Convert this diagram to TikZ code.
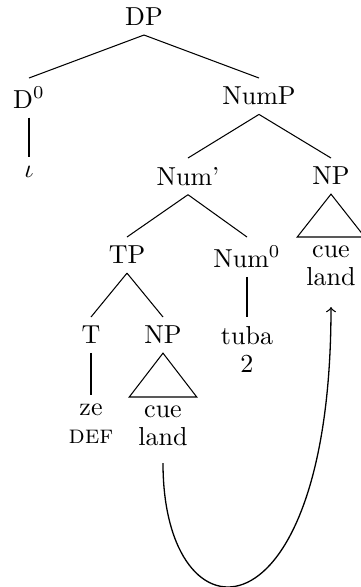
\documentclass[tikz,border=0pt]{standalone}
\begin{document}
\begin{tikzpicture}[x=0.3846pt,y=-0.3846pt,
  lab/.style={inner sep=3.33pt,font=\fontsize{10}{10.8}\selectfont,align=center},
  edge/.style={draw,line width=0.4pt}]
\useasboundingbox (0,0) rectangle (361,587);
\node[lab,anchor=south] (DP) at (144,35) {DP};
\node[lab,anchor=north] (D0) at (29,78) {D$^0$};
\node[lab,anchor=north] (iota) at (29,157) {$\iota$};
\node[lab,anchor=north] (NumP) at (259,78) {NumP};
\node[lab,anchor=north] (Numbar) at (188,158) {Num'};
\node[lab,anchor=north] (NPa) at (331,158) {NP};
\node[lab,anchor=north] (cuea) at (331,237) {cue\\land};
\node[lab,anchor=north] (TP) at (127,237) {TP};
\node[lab,anchor=north] (Num0) at (247,237) {Num$^0$};
\node[lab,anchor=north] (tuba) at (247,317) {tuba\\2};
\node[lab,anchor=north] (T) at (91,317) {T};
\node[lab,anchor=north] (NPb) at (163,317) {NP};
\node[lab,anchor=north] (ze) at (91,395) {ze\\\textsc{def}};
\node[lab,anchor=north] (cueb) at (163,397) {cue\\land};

\draw[edge] (DP.south) -- (D0.north);
\draw[edge] (DP.south) -- (NumP.north);
\draw[edge] (D0.south) -- (iota.north);
\draw[edge] (NumP.south) -- (Numbar.north);
\draw[edge] (NumP.south) -- (NPa.north);
\draw[edge] (NPa.south) -- (cuea.north west) -- (cuea.north east) -- cycle;
\draw[edge] (Numbar.south) -- (TP.north);
\draw[edge] (Numbar.south) -- (Num0.north);
\draw[edge] (Num0.south) -- (tuba.north);
\draw[edge] (TP.south) -- (T.north);
\draw[edge] (TP.south) -- (NPb.north);
\draw[edge] (T.south) -- (ze.north);
\draw[edge] (NPb.south) -- (cueb.north west) -- (cueb.north east) -- cycle;
\draw[->,line width=0.5pt] ([yshift=-3pt]cueb.south) .. controls +(0,186) and +(0,340) .. ([yshift=-4.5pt]cuea.south);
\end{tikzpicture}
\end{document}
